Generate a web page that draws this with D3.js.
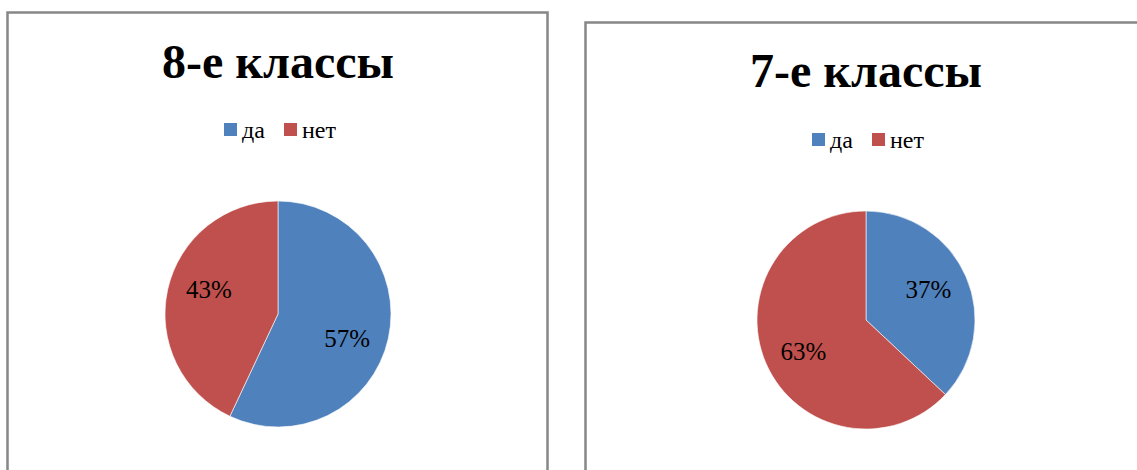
<!DOCTYPE html>
<html>
<head>
<meta charset="utf-8">
<script src="https://cdn.jsdelivr.net/npm/d3@7"></script>
<style>
  body { margin: 0; background: #fff; }
  svg { display: block; }
  text { font-family: "Liberation Serif", "Times New Roman", serif; }
</style>
</head>
<body>
<svg width="1137" height="470"></svg>
<script>
// data
const titles = ["8-е классы", "7-е классы"];
const categories = ["да", "нет"];
const values8 = [57, 43];
const values7 = [37, 63];
const colors = ["#4F81BD", "#C0504D"];

const svg = d3.select("svg");
const color = d3.scaleOrdinal().domain(categories).range(colors);

// layout of each panel (positions only)
const panels = [
  {title: titles[0], values: values8, x: 7.5, y: 12.5, w: 540, cx: 278, cy: 314, r: 113, titleY: 78, legY: 138, lblR: 0.65, lblRot: 7},
  {title: titles[1], values: values7, x: 585.5, y: 22.5, w: 570, cx: 866, cy: 320, r: 109, titleY: 87, legY: 148, lblR: 0.64, lblRot: -3}
];

const pie = d3.pie().sort(null).value(d => d.value);

panels.forEach(p => {
  const g = svg.append("g");
  g.append("rect")
    .attr("x", p.x).attr("y", p.y)
    .attr("width", p.w).attr("height", 500)
    .attr("fill", "none").attr("stroke", "#878787").attr("stroke-width", 2.5);

  g.append("text")
    .attr("x", p.cx).attr("y", p.titleY)
    .attr("text-anchor", "middle")
    .style("font-size", "48px").style("font-weight", "bold")
    .text(p.title);

  // legend
  const leg = g.append("g").attr("transform", `translate(${p.cx - 54}, ${p.legY})`);
  const items = leg.selectAll("g").data(categories).enter().append("g")
    .attr("transform", (d, i) => `translate(${i * 60}, 0)`);
  items.append("rect").attr("x", 0).attr("y", -15).attr("width", 13).attr("height", 13)
    .attr("fill", d => color(d));
  items.append("text").attr("x", 18).attr("y", 0)
    .style("font-size", "24px").text(d => d);

  const data = categories.map((c, i) => ({cat: c, value: p.values[i]}));
  const arc = d3.arc().innerRadius(0).outerRadius(p.r);
  const pg = g.append("g").attr("transform", `translate(${p.cx}, ${p.cy})`);
  const arcs = pie(data);
  pg.selectAll("path").data(arcs).enter().append("path")
    .attr("d", arc)
    .attr("fill", d => color(d.data.cat))
    .attr("stroke", "#fff").attr("stroke-width", 0.6);

  // label position: mid angle of the slice, nudged like the original
  const lblPos = d => {
    const a = (d.startAngle + d.endAngle) / 2 + p.lblRot * Math.PI / 180;
    const rr = p.r * p.lblR;
    return [Math.sin(a) * rr, -Math.cos(a) * rr];
  };
  pg.selectAll("text").data(arcs).enter().append("text")
    .attr("transform", d => `translate(${lblPos(d)})`)
    .attr("text-anchor", "middle").attr("dy", "0.35em")
    .style("font-size", "25px")
    .text(d => d.data.value + "%");
});
</script>
</body>
</html>
